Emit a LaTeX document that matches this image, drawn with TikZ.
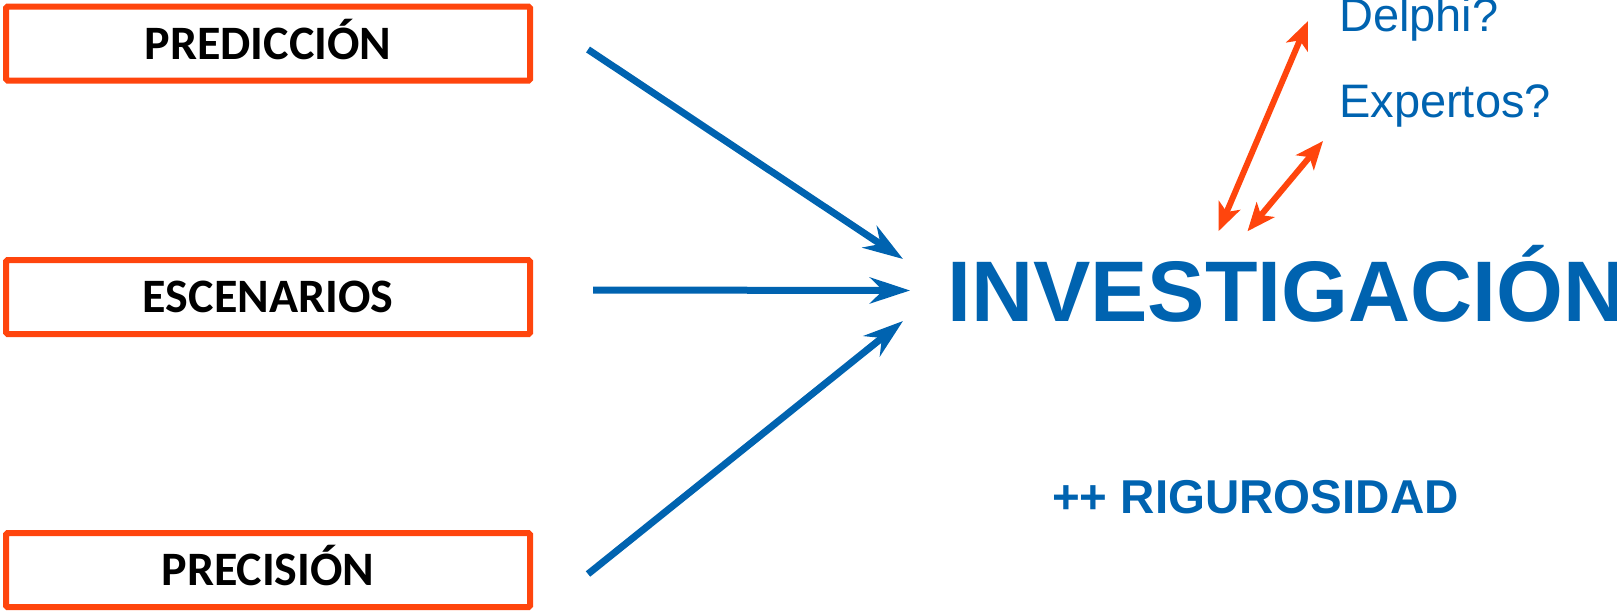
\documentclass[tikz,border=0pt]{standalone}
\usepackage{fontspec}
\usetikzlibrary{arrows.meta}
\newfontfamily\calibri{Carlito}
\newfontfamily\arial{Liberation Sans}
\definecolor{azul}{RGB}{0,99,176}
\definecolor{naranja}{RGB}{255,69,13}

\begin{document}
\begin{tikzpicture}[x=1pt,y=-1pt]
	\tikzstyle{box}=[rectangle,draw=naranja,line width=6pt,rounded corners=1.5pt,minimum width=524pt,minimum height=74pt,inner sep=0pt,text height=31pt,text depth=0pt,font=\calibri\bfseries\fontsize{48}{48}\selectfont]
	\tikzstyle{label}=[inner sep=0pt,text=azul,font=\arial\fontsize{47}{47}\selectfont]
	\tikzstyle{edge}=[draw,azul,line width=7pt,-{Stealth[length=40pt,width=26pt,inset=13pt]}]
	\tikzstyle{link}=[draw,naranja,line width=6pt,{Stealth[length=28pt,width=23pt,inset=7pt]}-{Stealth[length=28pt,width=23pt,inset=7pt]}]
	\useasboundingbox (0,0) rectangle (1617,611);
	\begin{scope}
		\node [box] (pred) at (268,43.5) {PREDICCIÓN};
		\node [box] (scen) at (268,297) {ESCENARIOS};
		\node [box] (prec) at (268,570) {PRECISIÓN};
		\node [label,anchor=west,text height=62pt,text depth=0pt,font=\arial\bfseries\fontsize{86}{86}\selectfont] (inv) at (947,290.5) {INVESTIGACIÓN};
		\node [label,anchor=base west,font=\arial\bfseries\fontsize{47.5}{47.5}\selectfont] (rig) at (1052,513) {++ RIGUROSIDAD};
		\node [label,anchor=base west] (delphi) at (1339,31) {Delphi?};
		\node [label,anchor=base west] (exp) at (1339,117) {Expertos?};
		\path[edge] ([xshift=55pt,yshift=-6pt]pred.east) -- ([xshift=-44pt,yshift=31.5pt]inv.west);
		\path[edge] ([xshift=60pt,yshift=7pt]scen.east) -- ([xshift=-37pt]inv.west);
		\path[edge] ([xshift=55pt,yshift=-4pt]prec.east) -- ([xshift=-44pt,yshift=-30.5pt]inv.west);
		\path[link] ([xshift=-68pt,yshift=28pt]inv.north) -- ([xshift=-31pt,yshift=10pt]delphi.base west);
		\path[link] ([xshift=-39pt,yshift=28pt]inv.north) -- ([xshift=-16pt,yshift=-24pt]exp.base west);
	\end{scope}
\end{tikzpicture}
\end{document}
